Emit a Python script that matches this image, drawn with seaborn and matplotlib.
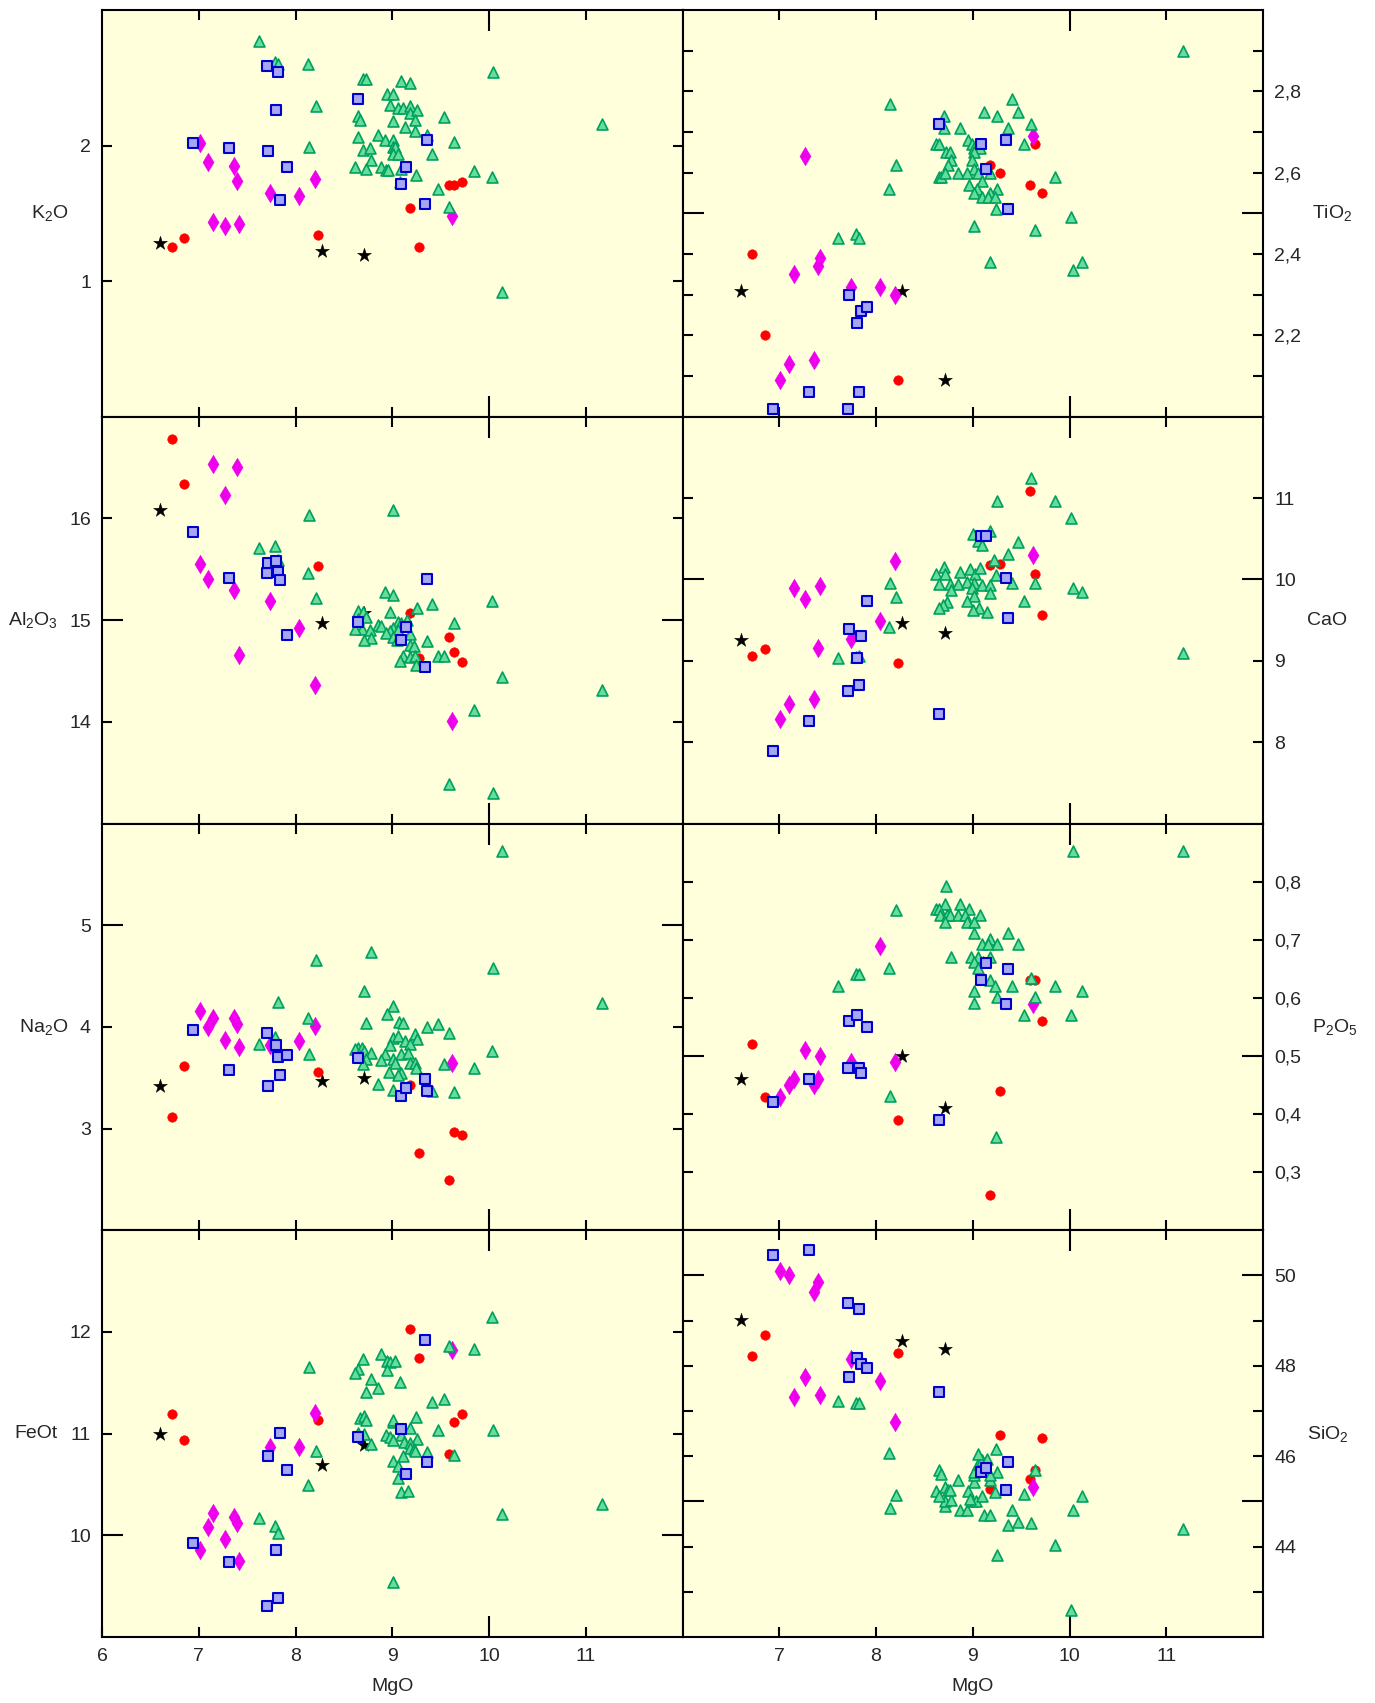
import matplotlib
matplotlib.use("Agg")
import matplotlib.pyplot as plt
from matplotlib.ticker import FixedLocator, FixedFormatter
import seaborn as sns

# ---------------- data ----------------
star_mgo = [6.60, 8.27, 8.71]
star_k2o = [1.28, 1.22, 1.19]
star_tio2 = [2.31, 2.31, 2.09]
star_al2o3 = [16.08, 14.97, 15.07]
star_cao = [9.26, 9.46, 9.34]
star_na2o = [3.42, 3.47, 3.50]
star_p2o5 = [0.46, 0.50, 0.41]
star_feot = [11.00, 10.69, 10.89]
star_sio2 = [49.02, 48.55, 48.37]

red_mgo = [6.72, 6.85, 8.23, 9.18, 9.28, 9.59, 9.64, 9.72]
red_k2o = [1.25, 1.32, 1.34, 1.54, 1.25, 1.71, 1.71, 1.73]
red_tio2 = [2.40, 2.20, 2.09, 2.62, 2.60, 2.57, 2.67, 2.55]
red_al2o3 = [16.78, 16.34, 15.53, 15.07, 14.63, 14.83, 14.69, 14.59]
red_cao = [9.06, 9.15, 8.97, 10.18, 10.19, 11.09, 10.07, 9.56]
red_na2o = [3.11, 3.62, 3.56, 3.43, 2.76, 2.49, 2.97, 2.94]
red_p2o5 = [0.52, 0.43, 0.39, 0.26, 0.44, 0.63, 0.63, 0.56]
red_feot = [11.19, 10.94, 11.13, 12.03, 11.74, 10.80, 11.11, 11.19]
red_sio2 = [48.22, 48.68, 48.28, 45.28, 46.46, 45.50, 45.70, 46.40]

dia_mgo = [7.01, 7.10, 7.15, 7.27, 7.36, 7.40, 7.42, 7.74, 8.04, 8.20, 9.62]
dia_k2o = [2.02, 1.88, 1.44, 1.41, 1.85, 1.74, 1.42, 1.65, 1.63, 1.75, 1.48]
dia_tio2 = [2.09, 2.13, 2.35, 2.64, 2.14, 2.37, 2.39, 2.32, 2.32, 2.30, 2.69]
dia_al2o3 = [15.55, 15.40, 16.54, 16.23, 15.30, 16.51, 14.66, 15.19, 14.92, 14.36, 14.01]
dia_cao = [8.29, 8.47, 9.89, 9.76, 8.53, 9.16, 9.92, 9.27, 9.49, 10.23, 10.30]
dia_na2o = [4.16, 4.00, 4.09, 3.87, 4.09, 4.03, 3.80, 3.82, 3.86, 4.01, 3.64]
dia_p2o5 = [0.43, 0.45, 0.46, 0.51, 0.45, 0.46, 0.50, 0.49, 0.69, 0.49, 0.59]
dia_feot = [9.86, 10.08, 10.22, 9.96, 10.18, 10.12, 9.75, 10.87, 10.87, 11.20, 11.82]
dia_sio2 = [50.10, 50.00, 47.31, 47.76, 49.63, 49.85, 47.35, 48.15, 47.67, 46.75, 45.31]

sq_mgo = [6.94, 7.31, 7.71, 7.72, 7.80, 7.82, 7.84, 7.91, 8.65, 9.09, 9.14, 9.34, 9.36]
sq_k2o = [2.02, 1.98, 2.59, 1.96, 2.26, 2.54, 1.60, 1.84, 2.34, 1.72, 1.84, 1.57, 2.04]
sq_tio2 = [2.02, 2.06, 2.02, 2.30, 2.23, 2.06, 2.26, 2.27, 2.72, 2.67, 2.61, 2.68, 2.51]
sq_al2o3 = [15.87, 15.41, 15.46, 15.56, 15.58, 15.47, 15.39, 14.85, 14.98, 14.80, 14.93, 14.54, 15.40]
sq_cao = [7.89, 8.26, 8.63, 9.39, 9.04, 8.70, 9.30, 9.73, 8.35, 10.53, 10.53, 10.02, 9.52]
sq_na2o = [3.97, 3.58, 3.94, 3.42, 3.82, 3.70, 3.53, 3.72, 3.69, 3.32, 3.40, 3.49, 3.37]
sq_p2o5 = [0.42, 0.46, 0.48, 0.56, 0.57, 0.48, 0.47, 0.55, 0.39, 0.63, 0.66, 0.59, 0.65]
sq_feot = [9.92, 9.74, 9.30, 10.78, 9.86, 9.38, 11.01, 10.64, 10.97, 11.05, 10.60, 11.92, 10.72]
sq_sio2 = [50.45, 50.56, 49.39, 47.76, 48.18, 49.25, 48.03, 47.96, 47.41, 45.66, 45.74, 45.25, 45.88]

tri_k2o_x = [7.62, 7.79, 7.82, 8.13, 8.21, 8.14, 8.70, 8.73, 9.09, 9.18, 8.95, 9.01, 8.98, 9.06,
             9.11, 9.18, 9.18, 9.26, 9.23, 9.53, 8.65, 8.67, 9.01, 9.13, 9.24, 9.36, 8.85, 8.65,
             8.93, 9.01, 9.01, 9.03, 8.70, 8.77, 9.01, 9.06, 9.41, 9.64, 8.78, 8.62, 8.73, 8.88,
             8.94, 8.96, 9.09, 9.25, 9.08, 9.85, 10.03, 9.47, 9.59, 10.04, 11.17, 10.13]
tri_k2o_y = [2.77, 2.62, 2.60, 2.60, 2.29, 1.99, 2.49, 2.49, 2.48, 2.46, 2.38, 2.38, 2.30, 2.28,
             2.28, 2.29, 2.24, 2.26, 2.19, 2.21, 2.22, 2.19, 2.18, 2.14, 2.11, 2.08, 2.08, 2.06,
             2.04, 2.04, 1.99, 1.99, 1.97, 1.98, 1.94, 1.94, 1.94, 2.03, 1.89, 1.84, 1.83, 1.84,
             1.82, 1.82, 1.83, 1.78, 1.73, 1.81, 1.77, 1.68, 1.55, 2.54, 2.16, 0.92]

tri_tio2_x = [11.17, 8.14, 9.41, 9.12, 9.25, 9.47, 8.70, 8.70, 8.87, 9.36, 9.60, 8.95, 8.99, 8.62,
              8.65, 9.53, 9.01, 9.08, 8.72, 8.77, 9.01, 8.78, 8.99, 8.74, 8.21, 9.01, 8.65, 8.67,
              8.71, 8.85, 8.94, 9.05, 9.18, 9.10, 8.96, 9.25, 9.04, 9.01, 9.18, 9.10, 9.16, 9.23,
              9.85, 8.13, 9.24, 9.01, 10.02, 9.64, 7.61, 7.79, 7.82, 9.18, 10.04, 10.13]
tri_tio2_y = [2.90, 2.77, 2.78, 2.75, 2.74, 2.75, 2.74, 2.71, 2.71, 2.71, 2.72, 2.68, 2.67, 2.67,
              2.67, 2.67, 2.66, 2.66, 2.65, 2.65, 2.65, 2.63, 2.63, 2.62, 2.62, 2.61, 2.59, 2.59,
              2.60, 2.60, 2.60, 2.60, 2.60, 2.58, 2.57, 2.56, 2.56, 2.55, 2.55, 2.54, 2.54, 2.54,
              2.59, 2.56, 2.51, 2.47, 2.49, 2.46, 2.44, 2.45, 2.44, 2.38, 2.36, 2.38]

tri_al2o3_x = [7.62, 7.79, 7.82, 8.14, 8.13, 8.21, 9.01, 8.93, 9.01, 10.03, 9.41, 9.26, 8.65, 8.70,
               8.98, 8.73, 8.65, 9.15, 9.06, 9.09, 9.64, 8.85, 8.88, 9.01, 8.69, 8.62, 8.77, 8.98,
               8.94, 9.06, 9.18, 9.01, 8.78, 8.71, 9.05, 9.36, 9.18, 9.22, 9.11, 9.18, 9.23, 9.47,
               9.53, 9.08, 9.25, 10.13, 11.17, 9.85, 9.59, 10.04]
tri_al2o3_y = [15.71, 15.73, 15.59, 16.03, 15.46, 15.22, 16.08, 15.28, 15.25, 15.19, 15.16, 15.12,
               15.09, 15.08, 15.08, 15.03, 15.01, 15.00, 14.98, 14.97, 14.97, 14.95, 14.94, 14.92,
               14.91, 14.91, 14.90, 14.89, 14.87, 14.90, 14.86, 14.83, 14.82, 14.80, 14.80, 14.79,
               14.76, 14.75, 14.65, 14.64, 14.65, 14.65, 14.65, 14.60, 14.56, 14.44, 14.31, 14.12,
               13.39, 13.30]

tri_cao_x = [9.60, 9.25, 9.85, 10.02, 9.00, 9.18, 9.05, 9.10, 9.47, 9.36, 9.22, 9.24, 8.70, 8.62,
             8.71, 8.87, 8.97, 9.02, 9.08, 8.65, 8.77, 8.85, 8.94, 9.01, 9.10, 9.18, 8.78, 8.99,
             9.41, 9.64, 9.18, 9.01, 10.04, 10.13, 8.14, 8.21, 9.53, 8.94, 8.73, 8.69, 8.65, 9.06,
             9.00, 9.15, 8.13, 7.61, 7.79, 7.82, 11.17]
tri_cao_y = [11.25, 10.96, 10.97, 10.76, 10.56, 10.60, 10.47, 10.42, 10.46, 10.31, 10.24, 10.05,
             10.15, 10.07, 10.07, 10.09, 10.13, 10.07, 10.14, 9.95, 9.94, 9.94, 9.97, 9.96, 9.93,
             9.93, 9.87, 9.90, 9.96, 9.96, 9.83, 9.80, 9.90, 9.85, 9.96, 9.79, 9.73, 9.73, 9.72,
             9.69, 9.65, 9.65, 9.62, 9.60, 9.42, 9.04, 9.05, 9.06, 9.09]

tri_na2o_x = [10.13, 8.78, 8.21, 10.04, 8.71, 7.82, 11.17, 9.01, 8.95, 8.13, 9.07, 9.11, 8.73, 9.47,
              9.36, 9.59, 9.23, 7.79, 9.01, 9.06, 9.13, 9.26, 8.98, 9.18, 7.62, 8.65, 8.62, 8.69,
              8.71, 8.78, 8.93, 8.14, 9.09, 9.16, 10.03, 8.67, 8.73, 8.88, 9.01, 9.03, 9.18, 9.23,
              9.25, 9.53, 9.85, 8.70, 8.97, 9.09, 9.06, 8.85, 9.01, 9.41, 9.64]
tri_na2o_y = [5.73, 4.74, 4.66, 4.58, 4.35, 4.24, 4.23, 4.21, 4.13, 4.09, 4.05, 4.04, 4.04, 4.03,
              4.00, 3.94, 3.93, 3.90, 3.89, 3.91, 3.86, 3.88, 3.82, 3.83, 3.83, 3.79, 3.78, 3.79,
              3.76, 3.74, 3.73, 3.73, 3.73, 3.74, 3.76, 3.71, 3.68, 3.67, 3.68, 3.64, 3.64, 3.64,
              3.60, 3.63, 3.60, 3.63, 3.56, 3.55, 3.53, 3.44, 3.38, 3.37, 3.36]

tri_p2o5_x = [10.04, 11.17, 8.72, 8.71, 8.87, 8.21, 8.62, 8.65, 8.96, 8.66, 8.73, 8.77, 8.85, 8.92,
              9.08, 8.71, 8.94, 9.01, 9.01, 9.36, 9.18, 9.10, 9.16, 9.25, 9.47, 8.78, 8.98, 9.05,
              9.18, 9.01, 9.11, 9.05, 8.13, 7.79, 7.82, 7.61, 9.18, 9.23, 9.41, 9.85, 9.01, 10.13,
              9.25, 9.64, 9.01, 9.53, 10.02, 9.60, 8.14, 9.24]
tri_p2o5_y = [0.853, 0.853, 0.792, 0.762, 0.762, 0.751, 0.752, 0.752, 0.752, 0.742, 0.742, 0.742,
              0.742, 0.742, 0.742, 0.731, 0.731, 0.731, 0.711, 0.711, 0.702, 0.692, 0.692, 0.692,
              0.692, 0.671, 0.671, 0.671, 0.671, 0.661, 0.661, 0.651, 0.651, 0.641, 0.641, 0.621,
              0.631, 0.621, 0.621, 0.621, 0.611, 0.611, 0.601, 0.601, 0.591, 0.571, 0.571, 0.634,
              0.431, 0.361]

tri_feot_x = [10.03, 9.59, 9.85, 8.88, 8.70, 8.95, 8.98, 9.03, 8.14, 8.65, 8.62, 8.95, 8.78, 9.08,
              8.85, 8.73, 9.53, 9.41, 9.25, 8.67, 8.71, 8.73, 9.01, 9.01, 9.18, 9.47, 10.04, 8.65,
              8.71, 9.09, 8.94, 8.98, 9.01, 9.26, 9.12, 9.18, 8.78, 9.18, 9.22, 9.24, 8.21, 9.36,
              9.11, 9.64, 9.01, 9.06, 9.06, 8.13, 9.09, 9.16, 11.17, 10.13, 7.62, 7.79, 7.82, 9.01]
tri_feot_y = [12.15, 11.86, 11.83, 11.78, 11.73, 11.71, 11.70, 11.71, 11.66, 11.64, 11.60, 11.63,
              11.54, 11.51, 11.45, 11.41, 11.34, 11.31, 11.16, 11.15, 11.17, 11.13, 11.11, 11.13,
              11.06, 11.04, 11.04, 11.01, 11.00, 10.99, 10.99, 10.97, 10.94, 10.95, 10.92, 10.91,
              10.90, 10.86, 10.85, 10.83, 10.83, 10.82, 10.78, 10.79, 10.73, 10.68, 10.56, 10.49,
              10.43, 10.44, 10.31, 10.21, 10.17, 10.09, 10.02, 9.54]

tri_sio2_x = [11.17, 10.02, 9.25, 9.85, 9.36, 9.47, 9.60, 8.87, 8.94, 9.12, 9.18, 9.41, 10.04, 10.13,
              9.53, 8.14, 8.21, 8.71, 8.71, 8.78, 8.99, 9.03, 9.10, 8.62, 8.65, 8.71, 8.74, 8.77,
              8.95, 8.97, 9.23, 8.85, 9.01, 9.18, 8.65, 8.67, 9.01, 9.01, 9.25, 9.18, 9.64, 9.05,
              9.10, 9.15, 9.05, 9.24, 8.13, 7.61, 7.79, 7.82]
tri_sio2_y = [44.40, 42.60, 43.81, 44.03, 44.48, 44.55, 44.52, 44.80, 44.80, 44.69, 44.69, 44.81,
              44.80, 45.13, 45.17, 44.86, 45.15, 44.90, 45.00, 45.03, 45.02, 45.02, 45.11, 45.24,
              45.12, 45.33, 45.25, 45.25, 45.24, 45.06, 45.20, 45.48, 45.43, 45.48, 45.69, 45.61,
              45.59, 45.66, 45.64, 45.59, 45.70, 45.82, 45.92, 45.93, 46.04, 46.16, 46.08, 47.23,
              47.17, 47.17]

x_major = [7, 8, 9, 11]
x_long = [10]

# ---------------- style ----------------
sns.set_style("ticks")
plt.rcParams["font.family"] = ["Liberation Sans", "DejaVu Sans"]
plt.rcParams["mathtext.default"] = "regular"
plt.rcParams["axes.linewidth"] = 1.5

BG = "#FFFFDC"
C_RED = "#FF0000"
C_MAG = "#EE00EE"
C_SQ_FACE = "#A6A6F2"
C_SQ_EDGE = "#0000CC"
C_TRI_FACE = "#66DD99"
C_TRI_EDGE = "#00A060"
FS = 14

fig = plt.figure(figsize=(13.75, 17.03), dpi=100)
gs = fig.add_gridspec(4, 2, left=102 / 1375, right=1263 / 1375,
                      top=1 - 10 / 1703, bottom=1 - 1637 / 1703,
                      hspace=0, wspace=0)

panels = [
    (0, 0, "K$_2$O", (0, 3), star_k2o, red_k2o, dia_k2o, sq_k2o, tri_k2o_x, tri_k2o_y,
     [1, 2], ["1", "2"], [], []),
    (0, 1, "TiO$_2$", (2.0, 3.0), star_tio2, red_tio2, dia_tio2, sq_tio2, tri_tio2_x, tri_tio2_y,
     [2.1, 2.2, 2.3, 2.4, 2.6, 2.7, 2.8, 2.9], ["", "2,2", "", "2,4", "2,6", "", "2,8", ""],
     [2.5], [""]),
    (1, 0, "Al$_2$O$_3$", (13, 17), star_al2o3, red_al2o3, dia_al2o3, sq_al2o3, tri_al2o3_x, tri_al2o3_y,
     [14, 16], ["14", "16"], [15], ["15"]),
    (1, 1, "CaO", (7, 12), star_cao, red_cao, dia_cao, sq_cao, tri_cao_x, tri_cao_y,
     [8, 9, 11], ["8", "9", "11"], [10], ["10"]),
    (2, 0, "Na$_2$O", (2, 6), star_na2o, red_na2o, dia_na2o, sq_na2o, tri_na2o_x, tri_na2o_y,
     [3, 4], ["3", "4"], [5], ["5"]),
    (2, 1, "P$_2$O$_5$", (0.2, 0.9), star_p2o5, red_p2o5, dia_p2o5, sq_p2o5, tri_p2o5_x, tri_p2o5_y,
     [0.3, 0.4, 0.6, 0.7, 0.8], ["0,3", "0,4", "0,6", "0,7", "0,8"], [0.5], ["0,5"]),
    (3, 0, "FeOt", (9, 13), star_feot, red_feot, dia_feot, sq_feot, tri_feot_x, tri_feot_y,
     [11, 12], ["11", "12"], [10], ["10"]),
    (3, 1, "SiO$_2$", (42, 51), star_sio2, red_sio2, dia_sio2, sq_sio2, tri_sio2_x, tri_sio2_y,
     [43, 44, 46, 47, 48, 49], ["", "44", "46", "", "48", ""], [45, 50], ["", "50"]),
]

for (r, c, label, ylim, ys, yr, yd, yq, tx, ty, ymaj, ymaj_lab, ylong, ylong_lab) in panels:
    ax = fig.add_subplot(gs[r, c])
    ax.set_facecolor(BG)
    sns.scatterplot(x=star_mgo, y=ys, ax=ax, marker="*", s=110, color="black",
                    edgecolor="black", linewidth=0.3, legend=False, zorder=3)
    sns.scatterplot(x=red_mgo, y=yr, ax=ax, marker="o", s=48, color=C_RED,
                    edgecolor=C_RED, linewidth=0.3, legend=False, zorder=3)
    sns.scatterplot(x=dia_mgo, y=yd, ax=ax, marker="d", s=90, color=C_MAG,
                    edgecolor=C_MAG, linewidth=0.3, legend=False, zorder=3)
    sns.scatterplot(x=tx, y=ty, ax=ax, marker="^", s=62, color=C_TRI_FACE,
                    edgecolor=C_TRI_EDGE, linewidth=1.2, legend=False, zorder=4)
    sns.scatterplot(x=sq_mgo, y=yq, ax=ax, marker="s", s=50, color=C_SQ_FACE,
                    edgecolor=C_SQ_EDGE, linewidth=1.5, legend=False, zorder=5)

    ax.set_xlim(6, 12)
    ax.set_ylim(*ylim)

    if r == 3:
        xm = ([6] + x_major) if c == 0 else x_major
        ax.xaxis.set_major_locator(FixedLocator(xm))
        ax.xaxis.set_major_formatter(FixedFormatter([str(v) for v in xm]))
        ax.xaxis.set_minor_locator(FixedLocator(x_long))
        ax.xaxis.set_minor_formatter(FixedFormatter([str(v) for v in x_long]))
        ax.set_xlabel("MgO", fontsize=FS, labelpad=9)
    else:
        ax.xaxis.set_major_locator(FixedLocator(x_major))
        ax.xaxis.set_major_formatter(FixedFormatter([""] * len(x_major)))
        ax.xaxis.set_minor_locator(FixedLocator(x_long))
        ax.xaxis.set_minor_formatter(FixedFormatter([""] * len(x_long)))
        ax.set_xlabel("")

    ax.yaxis.set_major_locator(FixedLocator(ymaj))
    ax.yaxis.set_major_formatter(FixedFormatter(ymaj_lab))
    ax.yaxis.set_minor_locator(FixedLocator(ylong))
    ax.yaxis.set_minor_formatter(FixedFormatter(ylong_lab))

    ax.tick_params(axis="both", which="both", direction="in", top=True, bottom=True,
                   left=True, right=True, width=1.5, color="black", labelsize=FS, pad=8)
    ax.tick_params(axis="both", which="major", length=7.5)
    ax.tick_params(axis="both", which="minor", length=15)

    if c == 0:
        ax.tick_params(axis="y", which="both", labelleft=True, labelright=False)
        ax.set_ylabel(label, fontsize=FS, rotation=0, ha="right", va="center", labelpad=8)
    else:
        ax.tick_params(axis="y", which="both", labelleft=False, labelright=True)
        ax.yaxis.set_label_position("right")
        ax.set_ylabel(label, fontsize=FS, rotation=0, ha="left", va="center", labelpad=8)

    for sp in ax.spines.values():
        sp.set_linewidth(1.5)
        sp.set_color("black")
        sp.set_zorder(6)

fig.savefig("out.png", dpi=100, facecolor="white")
